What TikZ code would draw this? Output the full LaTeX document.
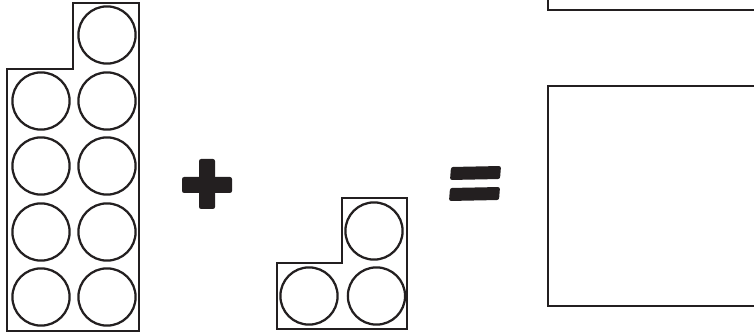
\documentclass[tikz,border=0pt]{standalone}
\usepackage{tikz}
\usetikzlibrary{positioning}
\definecolor{cInk}{HTML}{231F20}
\tikzset{
  frame/.style={draw=cInk, line width=1.9pt, fill=white, line join=miter},
  counter/.style={circle, draw=cInk, line width=1.6pt, minimum size=1.43cm, inner sep=0pt},
  sign/.style={fill=cInk, rounded corners=1.5pt},
}

\begin{document}
\begin{tikzpicture}[x=0.025cm, y=-0.025cm]

  \useasboundingbox (0,0) rectangle (754,333);
  \clip (0,0) rectangle (754,333);

  % Nine counters
  \draw[frame] (7,69) -- (73,69) -- (73,3) -- (139,3) -- (139,331) -- (7,331) -- cycle;
  \node[counter] (top9) at (107,35) {};
  \foreach \r [count=\i] in {101,166,232,297} {
    \node[counter] (left\i) at (41,\r) {};
    \node[counter] (right\i) at (107,\r) {};
  }

  % Plus sign
  \fill[sign] (182,177) rectangle (232,193);
  \fill[sign] (199,159) rectangle (215,209);

  % Three counters
  \draw[frame] (277,263) -- (342,263) -- (342,198) -- (407,198) -- (407,329) -- (277,329) -- cycle;
  \node[counter] (top3) at (374,231) {};
  \node[counter] (low1) at (309,296) {};
  \node[counter, right=0.2cm of low1] (low2) {};

  % Equals sign
  \fill[sign] (451,167) -- (501,166) -- (500,179) -- (450,180) -- cycle;
  \fill[sign] (450,188) -- (500,187) -- (499,200) -- (449,201) -- cycle;

  % Answer boxes
  \draw[frame] (548,-20) rectangle (780,10);
  \draw[frame] (548,86) rectangle (780,306);

\end{tikzpicture}
\end{document}
